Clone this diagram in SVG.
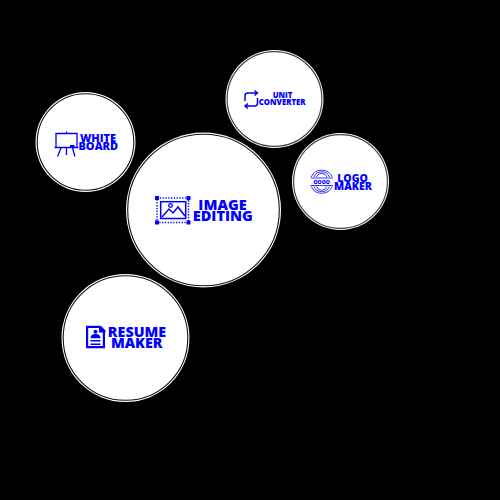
<svg xmlns="http://www.w3.org/2000/svg" width="500" height="500" viewBox="0 0 500 500">
<style>
.disc{fill:#fff}
.ring{fill:none;stroke:#111;stroke-width:1.100}
.ring2{fill:none;stroke:#444;stroke-width:1.200}
.t{font-family:"Open Sans","Noto Sans",sans-serif;font-weight:800;fill:#0000ff;text-anchor:middle}
.i{fill:none;stroke:#0000ff;stroke-width:1.300}
.thin{fill:none;stroke:#0000ff;stroke-width:.8}
.heavy{fill:none;stroke:#0000ff;stroke-width:1.500}
.doc{fill:none;stroke:#0000ff;stroke-width:2.200}
.f{fill:#0000ff}
</style>
<rect width="500" height="500" fill="#000"/>
<g id="white-board">
<circle class="disc" cx="85.500" cy="142" r="50"/><circle class="ring" cx="85.500" cy="142" r="48.300"/>
<path class="i" d="M56 133.500h21v14h-21zM54.500 147.500h24M66.500 133v-1.500M61 148l-3.500 8.500M66.500 148v7M72.500 148l2.500 8.500"/>
<rect class="f" x="70" y="145" width="4.500" height="2.500"/>
<text class="t" x="98" y="142.200" font-size="11">WHITE</text>
<text class="t" x="98.300" y="150.300" font-size="11">BOARD</text>
</g>
<g id="unit-converter">
<circle class="disc" cx="274.500" cy="99" r="49"/><circle class="ring2" cx="274.500" cy="99" r="47.400"/>
<path class="heavy" d="M245 101v-5q0-3 3-3h9.500M254.500 90.500l3 2.500-3 2.500M257.500 98v5q0 3-3 3h-9.500M248 103.500l-3 2.500 3 2.500"/>
<text class="t" x="282.500" y="98.400" font-size="7.800">UNIT</text>
<text class="t" x="282.200" y="104.500" font-size="7.800">CONVERTER</text>
</g>
<g id="logo-maker">
<circle class="disc" cx="340.500" cy="181.500" r="48.500"/><circle class="ring2" cx="340.500" cy="181.500" r="46.900"/>
<path class="thin" d="M311.200 177a11.500 11.500 0 0 1 21 0M314 177a8.300 8.300 0 0 1 15.400 0M316.500 177a5.500 5.500 0 0 1 10.400 0M311.200 186.500a11.500 11.500 0 0 0 21 0M314 186.500a8.300 8.300 0 0 0 15.400 0M316.500 186.500a5.500 5.500 0 0 0 10.400 0M310.500 178h22.400M310.500 185.500h22.400"/>
<text x="321.700" y="183.600" font-family="Open Sans" font-size="5.200" font-weight="800" fill="#0000ff" text-anchor="middle">OOOO</text>
<text class="t" x="352.500" y="181.700" font-size="10.500">LOGO</text>
<text class="t" x="353" y="189.700" font-size="10.500">MAKER</text>
</g>
<g id="image-editing">
<circle class="disc" cx="203.500" cy="210" r="77.500"/><circle class="ring" cx="203.500" cy="210" r="75.800"/>
<path class="heavy" d="M157 198h31.500v24.500h-31.500z" stroke-dasharray="1.300 1.500"/>
<rect class="heavy" x="160.700" y="201.700" width="25" height="16.800"/>
<path class="heavy" d="M162 217l7-8 4 4 5-6 7 9"/>
<circle class="i" cx="170.500" cy="205.500" r="1.800"/>
<path class="f" d="M155 196h4v4h-4zM186.500 196h4v4h-4zM155 220.500h4v4h-4zM186.500 220.500h4v4h-4z"/>
<text class="t" x="222.500" y="209.500" font-size="14.500">IMAGE</text>
<text class="t" x="222.800" y="221" font-size="14.500">EDITING</text>
</g>
<g id="resume-maker">
<circle class="disc" cx="125.500" cy="338" r="64"/><circle class="ring" cx="125.500" cy="338" r="62.300"/>
<path class="doc" d="M87.100 326.800h12.500l4.300 4.300v16.100h-16.800z"/>
<path class="f" d="M99 326h2l4.500 4.500v2h-6.500z"/>
<circle class="f" cx="95.500" cy="331.800" r="2"/><path class="f" d="M90.500 338.300q0-4.300 5-4.300t5 4.300z"/>
<path class="heavy" d="M90.500 340.800h10M90.500 344.300h10"/>
<text class="t" x="137" y="336.700" font-size="14.300">RESUME</text>
<text class="t" x="136.700" y="348.300" font-size="14.300">MAKER</text>
</g>
</svg>
